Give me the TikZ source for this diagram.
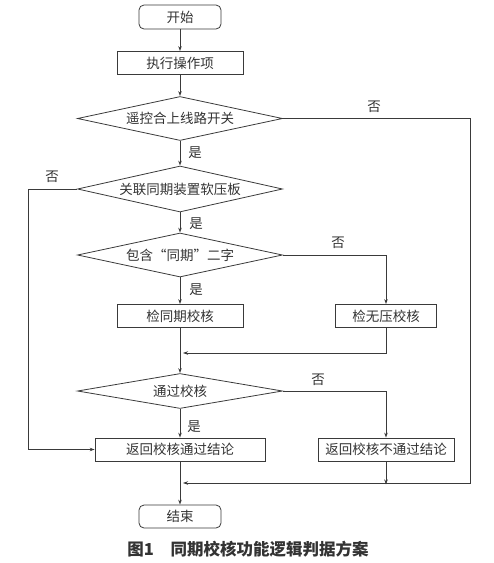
\documentclass[tikz,border=0pt]{standalone}
\usepackage{fontspec}
\setmainfont{Noto Sans CJK SC}
\usetikzlibrary{shapes.geometric,arrows.meta}
\definecolor{lc}{HTML}{3A3A3A}
\definecolor{tc}{HTML}{333333}
\begin{document}
\begin{tikzpicture}[x=1pt,y=-1pt,
  line/.style={draw=lc, line width=0.8pt},
  arr/.style={line, -{Stealth[length=5pt,width=3.5pt]}},
  txt/.style={text=tc, font=\fontsize{13.5}{14}\selectfont},
  proc/.style={txt, draw=lc, line width=0.8pt, rectangle, minimum height=23pt, inner sep=0pt},
  term/.style={proc, rounded corners=5pt, minimum width=82pt, minimum height=24pt},
  dec/.style={txt, draw=lc, line width=0.8pt, diamond, aspect=5, inner sep=0pt, minimum width=205pt, minimum height=44pt},
  lab/.style={txt, inner sep=0pt}
]
\useasboundingbox (0,0) rectangle (494,563);
\node[term] (start) at (180,17) {开始};
\node[proc, minimum width=126pt] (op) at (180,63) {执行操作项};
\node[dec] (d1) at (180,118.5) {遥控合上线路开关};
\node[dec, minimum height=46pt] (d2) at (180,189) {关联同期装置软压板};
\node[dec] (d3) at (180,255) {包含“同期”二字};
\node[proc, minimum width=126pt] (c1) at (180,316) {检同期校核};
\node[proc, minimum width=101pt] (c2) at (386,316) {检无压校核};
\node[dec, minimum height=35pt] (d4) at (180,391) {通过校核};
\node[proc, minimum width=170pt] (ok) at (180,449.5) {返回校核通过结论};
\node[proc, minimum width=136pt] (ng) at (386,449.5) {返回校核不通过结论};
\node[term, minimum height=23pt] (end) at (180,516.5) {结束};
\node[text=tc, font=\bfseries\fontsize{16.5}{17}\selectfont] (cap) at (248,549) {图1\quad 同期校核功能逻辑判据方案};

\coordinate (r1) at (470,118.5);
\coordinate (r2) at (470,483);
\coordinate (m2) at (180,483);
\coordinate (l1) at (28,189);
\coordinate (l2) at (28,449.5);
\coordinate (m1) at (180,353);

\node[lab] (n1) at (374,107) {否};
\node[lab] (n2) at (52,177) {否};
\node[lab] (n3) at (338,243) {否};
\node[lab] (n4) at (318,380) {否};
\node[lab] (y1) at (195,153) {是};
\node[lab] (y2) at (196,224) {是};
\node[lab] (y3) at (196,290) {是};
\node[lab] (y4) at (194,427) {是};

\draw[arr] (start) -- (op);
\draw[arr] (op) -- (d1);
\draw[arr] (d1) -- (d2);
\draw[arr] (d1.east) -- (r1) -- (r2) -- ([xshift=3pt]m2);
\draw[arr] (d2.west) -- (l1) -- (l2) -- (ok.west);
\draw[arr] (d2) -- (d3);
\draw[arr] (d3) -- (c1);
\draw[arr] (d3.east) -- (d3.east -| c2) -- (c2.north);
\draw[arr] (c2.south) -- (c2.south |- m1) -- ([xshift=3pt]m1);
\draw[arr] (c1) -- (d4);
\draw[arr] (d4.east) -- (d4.east -| ng) -- (ng.north);
\draw[arr] (d4) -- (ok);
\draw[arr] (ng.south) -- ([yshift=-1.5pt]ng.south |- m2);
\draw[arr] (ok) -- (end);
\end{tikzpicture}
\end{document}
